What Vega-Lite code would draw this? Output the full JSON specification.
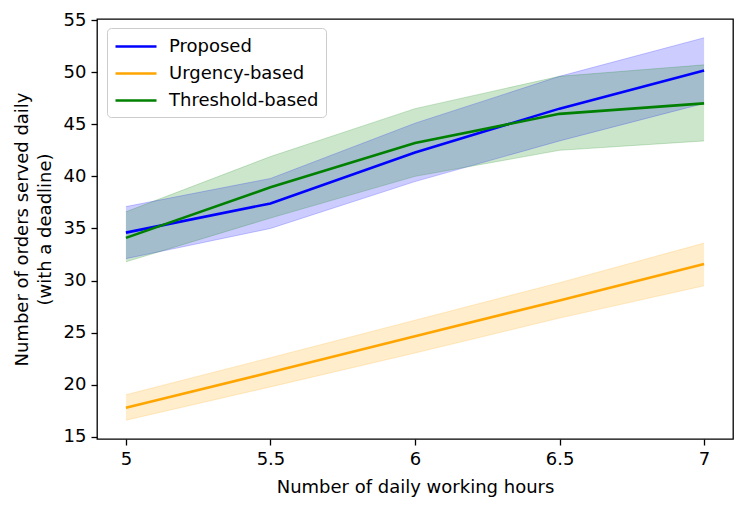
{
  "$schema": "https://vega.github.io/schema/vega-lite/v6.json",
  "autosize": {"type": "none"},
  "padding": {"left": 97, "top": 19, "right": 14, "bottom": 72},
  "width": 636,
  "height": 420,
  "background": "white",
  "config": {
    "view": {"stroke": "black", "strokeWidth": 1.3},
    "font": "DejaVu Sans",
    "axis": {
      "grid": false,
      "domain": false,
      "tickColor": "black",
      "tickSize": 6,
      "tickWidth": 1.3,
      "labelColor": "black",
      "labelFont": "DejaVu Sans",
      "labelFontSize": 18,
      "titleFont": "DejaVu Sans",
      "titleFontSize": 18,
      "titleFontWeight": "normal",
      "titleColor": "black"
    }
  },
  "data": {
    "values": [
      {"hours": 5, "method": "Proposed", "mean": 34.6, "lo": 32.1, "hi": 37.1},
      {"hours": 5.5, "method": "Proposed", "mean": 37.4, "lo": 35.0, "hi": 39.8},
      {"hours": 6, "method": "Proposed", "mean": 42.3, "lo": 39.5, "hi": 45.1},
      {"hours": 6.5, "method": "Proposed", "mean": 46.5, "lo": 43.4, "hi": 49.6},
      {"hours": 7, "method": "Proposed", "mean": 50.15, "lo": 47.0, "hi": 53.3},
      {"hours": 5, "method": "Urgency-based", "mean": 17.8, "lo": 16.6, "hi": 19.05},
      {"hours": 5.5, "method": "Urgency-based", "mean": 21.2, "lo": 19.8, "hi": 22.6},
      {"hours": 6, "method": "Urgency-based", "mean": 24.65, "lo": 23.05, "hi": 26.2},
      {"hours": 6.5, "method": "Urgency-based", "mean": 28.1, "lo": 26.4, "hi": 29.8},
      {"hours": 7, "method": "Urgency-based", "mean": 31.6, "lo": 29.5, "hi": 33.6},
      {"hours": 5, "method": "Threshold-based", "mean": 34.1, "lo": 31.8, "hi": 36.6},
      {"hours": 5.5, "method": "Threshold-based", "mean": 38.95, "lo": 36.0, "hi": 41.9},
      {"hours": 6, "method": "Threshold-based", "mean": 43.2, "lo": 40.0, "hi": 46.5},
      {"hours": 6.5, "method": "Threshold-based", "mean": 46.0, "lo": 42.5, "hi": 49.6},
      {"hours": 7, "method": "Threshold-based", "mean": 47.0, "lo": 43.4, "hi": 50.7}
    ]
  },
  "encoding": {
    "x": {
      "field": "hours",
      "type": "quantitative",
      "scale": {"domain": [4.9, 7.1], "nice": false, "zero": false},
      "axis": {"values": [5, 5.5, 6, 6.5, 7], "format": "~g", "title": "Number of daily working hours", "labelPadding": 5, "titlePadding": 10}
    },
    "color": {
      "field": "method",
      "type": "nominal",
      "sort": null,
      "scale": {"domain": ["Proposed", "Urgency-based", "Threshold-based"], "range": ["#0000ff", "#ffa500", "#008000"]},
      "legend": {
        "title": null,
        "orient": "none",
        "legendX": 10,
        "legendY": 9,
        "symbolType": "M-1,0H3.1",
        "symbolSize": 400,
        "symbolStrokeWidth": 2.6,
        "symbolOpacity": 1,
        "labelFontSize": 18,
        "labelFont": "DejaVu Sans",
        "labelColor": "black",
        "labelOffset": 32,
        "rowPadding": 6,
        "padding": 7,
        "fillColor": "rgba(255,255,255,0.8)",
        "strokeColor": "#cccccc",
        "cornerRadius": 4
      }
    }
  },
  "layer": [
    {
      "mark": {"type": "area", "opacity": 0.2},
      "encoding": {
        "y": {
          "field": "lo",
          "type": "quantitative",
          "scale": {"domain": [14.8, 55.1], "nice": false, "zero": false},
          "axis": {"values": [15, 20, 25, 30, 35, 40, 45, 50, 55], "format": "d", "title": ["Number of orders served daily", "(with a deadline)"], "titleLineHeight": 23, "labelPadding": 5, "titlePadding": 9}
        },
        "y2": {"field": "hi"}
      }
    },
    {
      "mark": {"type": "line", "strokeWidth": 1, "opacity": 0.2},
      "encoding": {"y": {"field": "lo", "type": "quantitative"}}
    },
    {
      "mark": {"type": "line", "strokeWidth": 1, "opacity": 0.2},
      "encoding": {"y": {"field": "hi", "type": "quantitative"}}
    },
    {
      "mark": {"type": "line", "strokeWidth": 2.6},
      "encoding": {"y": {"field": "mean", "type": "quantitative"}}
    }
  ]
}
